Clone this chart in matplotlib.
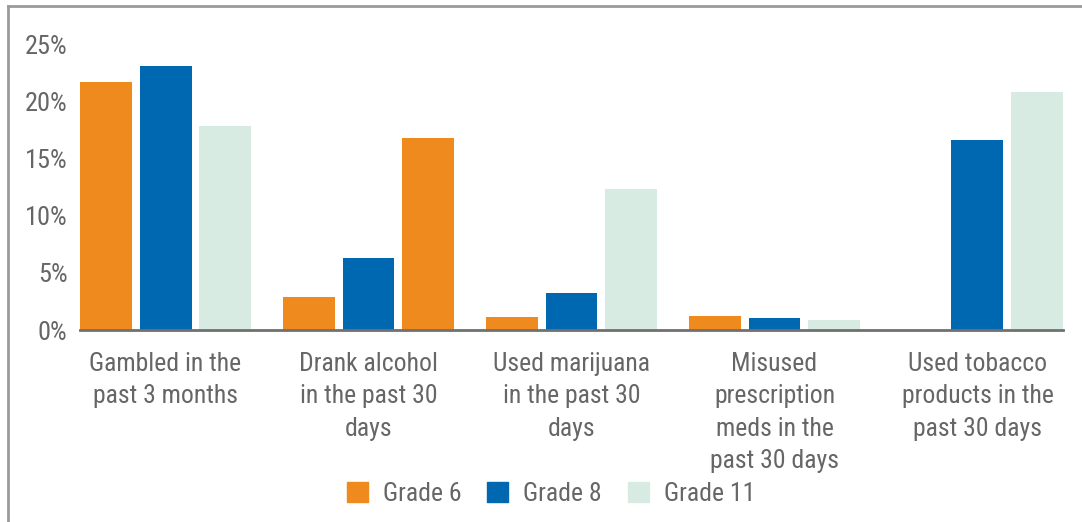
import matplotlib.pyplot as plt
from matplotlib import font_manager as fm
from matplotlib.lines import Line2D
from matplotlib.patches import Patch
import numpy as np

categories = ['Gambled in the\npast 3 months',
              'Drank alcohol\nin the past 30\ndays',
              'Used marijuana\nin the past 30\ndays',
              'Misused\nprescription\nmeds in the\npast 30 days',
              'Used tobacco\nproducts in the\npast 30 days']
grade6 = [21.7, 2.9, 1.1, 1.2, 0.0]
grade8 = [23.1, 6.3, 3.2, 1.05, 16.6]
grade11 = [17.8, 16.8, 12.3, 0.9, 20.8]
series_names = ['Grade 6', 'Grade 8', 'Grade 11']

orange = '#EE8A1E'
blue = '#0068B1'
green = '#D8EBE2'
txt = '#666666'
# the third bar of the alcohol group is drawn orange in the original
g11_colors = [green, orange, green, green, green]

# look for a narrow font, the original uses a condensed sans
names = {f.name for f in fm.fontManager.ttflist}
fam = None
for cand in ['Liberation Sans Narrow', 'Roboto Condensed', 'Open Sans Condensed',
             'Noto Sans Condensed', 'DejaVu Sans Condensed']:
    if cand in names:
        fam = cand
        break
if fam is None:
    fam = 'DejaVu Sans'
    plt.rcParams['font.stretch'] = 'condensed'
plt.rcParams['font.family'] = [fam, 'DejaVu Sans']

W, H = 1082, 522
fig = plt.figure(figsize=(W / 100, H / 100), dpi=100)
ax = fig.add_axes([80 / W, (H - 330) / H, 983 / W, (330 - 44) / H])

x = np.arange(len(categories))
bw = 0.256
step = 0.293
ax.bar(x - step, grade6, bw, color=orange)
ax.bar(x, grade8, bw, color=blue)
ax.bar(x + step, grade11, bw, color=g11_colors)

ax.set_xlim(-0.4214, 4.4214)
ax.set_ylim(0, 25)
ax.set_yticks([0, 5, 10, 15, 20, 25])
ax.set_yticklabels(['%d%%' % v for v in [0, 5, 10, 15, 20, 25]], fontsize=19)
ax.set_xticks(x)
ax.set_xticklabels(categories, linespacing=1.43, fontsize=18.5)
ax.tick_params(axis='both', length=0, colors=txt)
ax.tick_params(axis='y', pad=9)
ax.tick_params(axis='x', pad=16)
for s in ['top', 'right', 'left']:
    ax.spines[s].set_visible(False)
ax.spines['bottom'].set_color('#707070')
ax.spines['bottom'].set_linewidth(2)

handles = [Patch(color=c) for c in [orange, blue, green]]
fig.legend(handles, series_names, loc='center', bbox_to_anchor=(551 / W, 1 - 494 / H),
           ncol=3, frameon=False, fontsize=18.5, labelcolor=txt,
           handlelength=0.82, handleheight=0.82, handletextpad=0.58, columnspacing=1.0)

# outer frame (top and left edges only)
fig.add_artist(Line2D([8 / W, 1], [1 - 6 / H, 1 - 6 / H], color='#9a9a9a', lw=2))
fig.add_artist(Line2D([8 / W, 8 / W], [0, 1 - 6 / H], color='#9a9a9a', lw=2))

fig.savefig('out.png', dpi=100)
